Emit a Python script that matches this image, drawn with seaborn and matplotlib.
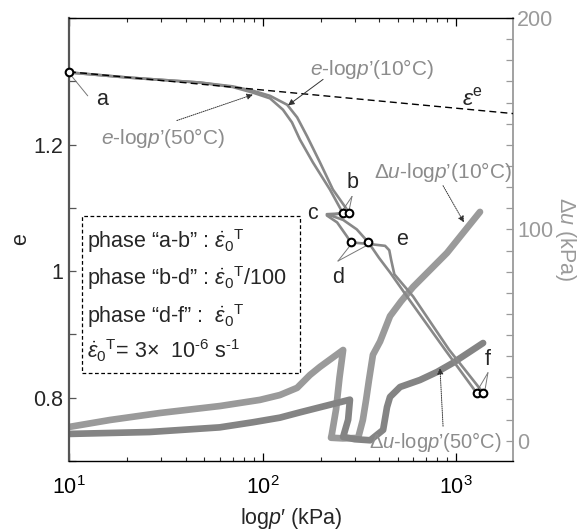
import matplotlib
matplotlib.use('Agg')
import matplotlib.pyplot as plt
import seaborn as sns
import pandas as pd
from matplotlib.ticker import MultipleLocator, FuncFormatter, LogLocator, NullFormatter, FixedLocator
from matplotlib.patches import Rectangle

# ---------------- data ----------------
# e - log p' curves
e_p_10C = [10, 20, 47.5, 70, 89.3, 109.4, 134, 151, 170, 198, 231, 281,
           250, 215, 261, 307, 352.5, 400, 456, 558, 877, 1279]
e_10C = [1.314, 1.306, 1.298, 1.292, 1.285, 1.277, 1.263, 1.243, 1.213, 1.172, 1.129, 1.092,
         1.091, 1.090, 1.081, 1.066, 1.0455, 1.021, 0.998, 0.960, 0.876, 0.8074]
e_p_50C = [10, 20, 47.5, 70, 89.3, 109.4, 127.6, 142, 156, 182, 223, 259.8,
           240, 215, 243, 273, 285.8, 352.5, 430, 452, 462, 480, 600, 920, 1384]
e_50C = [1.314, 1.306, 1.298, 1.291, 1.282, 1.273, 1.255, 1.235, 1.208, 1.172, 1.129, 1.092,
         1.090, 1.088, 1.077, 1.055, 1.0455, 1.043, 1.040, 1.033, 1.018, 0.995, 0.960, 0.876, 0.8074]

# elastic line
eps_p = [10, 1970]
eps_e = [1.315, 1.249]

# excess pore pressure curves
du_p_10C = [10, 16.3, 29.5, 60.3, 97, 123, 151, 176, 198, 261, 250, 240, 228, 226,
            260, 312, 330, 343, 355, 372, 405, 456, 520, 600, 898, 1086, 1330]
du_10C = [6.6, 9.9, 13.2, 16.5, 19.4, 21.7, 25.1, 31.2, 35, 43, 30, 15, 3, 1.5,
          1.2, 1.4, 9.9, 19.4, 28.8, 40.7, 47, 59, 66, 72.8, 88.9, 98.3, 108.3]
du_p_50C = [10, 26, 60, 89, 123, 156, 283, 277, 261, 300, 360, 420, 440, 456, 514,
            651, 798, 964, 1380]
du_50C = [3.3, 4.2, 6.4, 8.8, 11, 13.5, 19.5, 10, 1.9, 0.8, 0.3, 5.2, 16, 20.8, 25.5,
          28.8, 32.6, 36.9, 46.3]

# state points
pt_a_p, pt_a_e = [10], [1.314]
pt_b_p, pt_b_e = [259.8, 281], [1.092, 1.092]
pt_d_p, pt_d_e = [285.8, 352.5], [1.0455, 1.0455]
pt_f_p, pt_f_e = [1279, 1384], [0.8074, 0.8074]

# ---------------- style ----------------
sns.set_theme(style='ticks')
plt.rcParams['font.family'] = ['Liberation Sans', 'DejaVu Sans']
plt.rcParams['mathtext.fontset'] = 'custom'
plt.rcParams['mathtext.rm'] = 'Liberation Sans'
plt.rcParams['mathtext.it'] = 'Liberation Sans:italic'
plt.rcParams['mathtext.bf'] = 'Liberation Sans:bold'
plt.rcParams['mathtext.sf'] = 'Liberation Sans'

FS = 15.5
FS_ANN = 15
GREY_LINE = '#888888'
GREY_TXT = '#8c8c8c'
DU10 = '#9a9a9a'
DU50 = '#848484'
RIGHT = '#9a9a9a'

fig = plt.figure(figsize=(5.83, 5.30), dpi=100)
ax = fig.add_axes([69/583, 69/530, 444/583, 443/530])
ax2 = ax.twinx()
ax.set_zorder(ax2.get_zorder() + 1)
ax.patch.set_visible(False)

# Delta u curves on right axis
sns.lineplot(x=du_p_10C, y=du_10C, sort=False, estimator=None, ax=ax2, color=DU10,
             lw=4.8, solid_capstyle='round', solid_joinstyle='round')
sns.lineplot(x=du_p_50C, y=du_50C, sort=False, estimator=None, ax=ax2, color=DU50,
             lw=4.8, solid_capstyle='round', solid_joinstyle='round')

# e curves
sns.lineplot(x=e_p_10C, y=e_10C, sort=False, estimator=None, ax=ax, color=GREY_LINE, lw=1.9)
sns.lineplot(x=e_p_50C, y=e_50C, sort=False, estimator=None, ax=ax, color=GREY_LINE, lw=1.9)
sns.lineplot(x=eps_p, y=eps_e, sort=False, estimator=None, ax=ax, color='black', lw=1.0,
             linestyle=(0, (5, 3)))

# state point circles
for px, py in [(pt_a_p, pt_a_e), (pt_b_p, pt_b_e), (pt_d_p, pt_d_e), (pt_f_p, pt_f_e)]:
    ax.plot(px, py, 'o', ms=5.5, mfc='white', mec='black', mew=1.5, clip_on=False, zorder=5)

# axes scales
ax.set_xscale('log')
ax.set_xlim(10, 1970)
ax.set_ylim(0.7, 1.4)
ax2.set_ylim(-9.5, 200)

ax.yaxis.set_major_locator(FixedLocator([0.8, 1.0, 1.2]))
ax.yaxis.set_minor_locator(MultipleLocator(0.1))
ax.yaxis.set_major_formatter(FuncFormatter(lambda v, p: f'{v:g}'))
ax.xaxis.set_major_locator(LogLocator(base=10))
ax.xaxis.set_minor_locator(LogLocator(base=10, subs=range(2, 10)))
ax.xaxis.set_minor_formatter(NullFormatter())
ax2.yaxis.set_major_locator(FixedLocator([0, 100, 200]))
ax2.yaxis.set_minor_locator(MultipleLocator(10))

ax.tick_params(axis='x', which='major', direction='in', length=6, width=0.9, top=True,
               labelsize=FS, pad=11, colors='black')
ax.tick_params(axis='x', which='minor', direction='in', length=3, width=0.8, top=True)
ax.tick_params(axis='y', which='both', direction='in', length=5, width=0.9,
               labelsize=FS, right=False, color='#555555', pad=4)
ax2.tick_params(axis='y', which='both', direction='in', length=5, width=0.9,
                labelsize=FS, colors=RIGHT, pad=3)

for s in ['top', 'bottom']:
    ax.spines[s].set_color('black')
    ax.spines[s].set_linewidth(1.0)
ax.spines['left'].set_color('#555555')
ax.spines['left'].set_linewidth(1.6)
ax.spines['right'].set_visible(False)
for s in ['top', 'bottom', 'left']:
    ax2.spines[s].set_visible(False)
ax2.spines['right'].set_color(RIGHT)
ax2.spines['right'].set_linewidth(1.3)

ax.set_xlabel('log$p$′ (kPa)', fontsize=FS, labelpad=5)
ax.set_ylabel('e', fontsize=FS, labelpad=2)
ax2.set_ylabel('Δ$u$ (kPa)', fontsize=FS, color=RIGHT, rotation=270, labelpad=18)

# ---------------- annotations ----------------
arrow_dot = dict(arrowstyle='-|>', color='#333333', lw=0.7, ls=(0, (1, 1.2)),
                 mutation_scale=9, shrinkA=0, shrinkB=0)
arrow_sol = dict(arrowstyle='-|>', color='#333333', lw=0.7, mutation_scale=9,
                 shrinkA=0, shrinkB=0)
leader = dict(arrowstyle='-', color='#777777', lw=0.7, shrinkA=0, shrinkB=0)

ax.text(14.8, 1.271, 'a', fontsize=FS, ha='center', va='center')
ax.annotate('', xy=(12.5, 1.277), xytext=(10.4, 1.307), arrowprops=leader)

ax.text(30.6, 1.211, '$e$-log$p$’(50°C)', fontsize=FS_ANN, color=GREY_TXT, ha='center', va='center')
ax.annotate('', xy=(89.3, 1.279), xytext=(36.1, 1.238), arrowprops=arrow_dot)

ax.text(368, 1.319, '$e$-log$p$’(10°C)', fontsize=FS_ANN, color=GREY_TXT, ha='center', va='center')
ax.annotate('', xy=(135.5, 1.262), xytext=(205.6, 1.303), arrowprops=arrow_sol)

ax.text(1211, 1.271, r'$\varepsilon^{\mathrm{e}}$', fontsize=FS + 1, ha='center', va='center')

ax.text(292, 1.140, 'b', fontsize=FS, ha='center', va='center')
ax.annotate('', xy=(262, 1.098), xytext=(290, 1.118), arrowprops=leader)
ax.annotate('', xy=(281, 1.098), xytext=(290, 1.118), arrowprops=leader)

ax.text(182, 1.091, 'c', fontsize=FS, ha='center', va='center')

ax.text(245.5, 0.990, 'd', fontsize=FS, ha='center', va='center')
ax.annotate('', xy=(283, 1.040), xytext=(245.5, 1.016), arrowprops=leader)
ax.annotate('', xy=(343, 1.040), xytext=(245.5, 1.016), arrowprops=leader)

ax.text(526, 1.050, 'e', fontsize=FS, ha='center', va='center')

ax.text(1462, 0.860, 'f', fontsize=FS, ha='center', va='center')
ax.annotate('', xy=(1300, 0.813), xytext=(1462, 0.8395), arrowprops=leader)
ax.annotate('', xy=(1413, 0.813), xytext=(1462, 0.8395), arrowprops=leader)

ax.text(1946, 1.156, 'Δ$u$-log$p$’(10°C)', fontsize=FS_ANN, color=GREY_TXT, ha='right', va='center')
ax.annotate('', xy=(1099, 1.077), xytext=(857, 1.135), arrowprops=arrow_dot)

ax.text(1730, 0.730, 'Δ$u$-log$p$’(50°C)', fontsize=FS_ANN - 0.5, color=GREY_TXT, ha='right', va='center')
ax.annotate('', xy=(826, 0.847), xytext=(857, 0.755), arrowprops=arrow_dot)

# loading-phase box
ax.add_patch(Rectangle((0.0293, 0.1986), 0.4907, 0.3544, transform=ax.transAxes,
                       fill=False, ec='black', lw=0.9, ls=(0, (3, 2)), zorder=6))
eps0 = r'$\dot{\varepsilon}_0{}^{\mathrm{T}}$'
box_lines = [
    'phase “a-b” : ' + eps0,
    'phase “b-d” : ' + eps0 + '/100',
    'phase “d-f” :  ' + eps0,
    eps0 + '= 3×  10$^{\\text{-6}}$ s$^{\\text{-1}}$',
]
box_y = [0.481, 0.397, 0.3115, 0.2325]
for txt, yy in zip(box_lines, box_y):
    ax.text(0.0405, yy, txt, transform=ax.transAxes, fontsize=FS, ha='left', va='baseline')

fig.savefig('out.png', dpi=100)
